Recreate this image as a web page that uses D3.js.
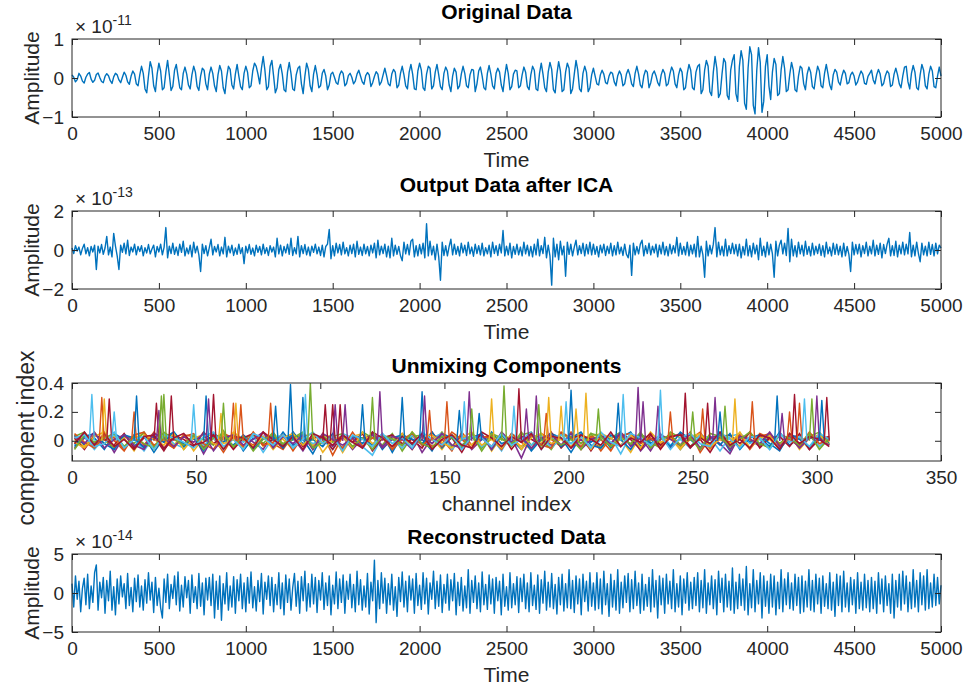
<!DOCTYPE html>
<html>
<head>
<meta charset="utf-8">
<script src="https://cdn.jsdelivr.net/npm/d3@7"></script>
<style>
body { margin: 0; background: #fff; }
svg { display: block; font-family: "Liberation Sans", Arial, sans-serif; }
</style>
</head>
<body>
<svg width="966" height="686"></svg>
<script>
var width = 966, height = 686;
var left = 72, right = 941, plotH = 78;
var ink = "#262626";
var lineBlue = "#0072BD";
var matlabColors = ["#0072BD", "#D95319", "#EDB120", "#7E2F8E", "#77AC30", "#4DBEEE", "#A2142F"];

var timeTicks = [0, 500, 1000, 1500, 2000, 2500, 3000, 3500, 4000, 4500, 5000];
var channelTicks = [0, 50, 100, 150, 200, 250, 300, 350];

// amplitude in units of 1e-11, one sample every 10 time steps (one row = 200 steps)
var original = [
  0.08, 0.02, -0.10, -0.04, 0.12, 0.05, -0.08, -0.13, 0.02, 0.10, 0.14, -0.03, -0.11, -0.06, 0.09, 0.13, 0.01, -0.09, -0.12, 0.04,
  0.11, 0.06, -0.07, -0.14, 0.03, 0.12, 0.08, -0.05, -0.12, 0.02, 0.15, 0.07, -0.10, -0.16, 0.05, 0.18, 0.10, -0.15, -0.20, 0.08,
  0.30, 0.12, -0.28, -0.38, 0.05, 0.42, 0.25, -0.20, -0.35, 0.10, 0.38, 0.18, -0.30, -0.25, 0.15, 0.45, 0.08, -0.32, -0.22, 0.20,
  0.35, 0.05, -0.25, -0.30, 0.12, 0.28, 0.10, -0.18, -0.28, 0.08, 0.30, 0.15, -0.22, -0.32, 0.05, 0.25, 0.20, -0.15, -0.30, 0.10,
  0.28, 0.12, -0.20, -0.35, 0.08, 0.32, 0.18, -0.25, -0.40, 0.02, 0.30, 0.22, -0.18, -0.28, 0.10, 0.35, 0.05, -0.22, -0.30, 0.12,
  0.30, 0.15, -0.25, -0.20, 0.18, 0.38, 0.30, 0.10, -0.15, 0.25, 0.55, 0.20, -0.30, -0.22, 0.30, 0.45, 0.05, -0.38, -0.25, 0.22,
  0.35, 0.10, -0.30, -0.35, 0.15, 0.40, 0.12, -0.28, -0.32, 0.08, 0.25, 0.30, -0.15, -0.40, 0.05, 0.38, 0.22, -0.20, -0.35, 0.10,
  0.32, 0.08, -0.25, -0.20, 0.12, 0.22, 0.05, -0.30, -0.18, 0.10, 0.15, 0.02, -0.12, -0.16, 0.08, 0.18, 0.12, -0.20, -0.14, 0.06,
  0.12, 0.02, -0.15, -0.08, 0.10, 0.20, 0.05, -0.10, -0.16, 0.06, 0.14, 0.08, -0.22, -0.12, 0.04, 0.16, 0.10, -0.18, -0.10, 0.08,
  0.25, 0.06, -0.15, -0.20, 0.10, 0.22, 0.15, -0.25, -0.18, 0.12, 0.30, 0.08, -0.20, -0.28, 0.15, 0.35, 0.10, -0.28, -0.30, 0.18,
  0.38, 0.20, -0.25, -0.32, 0.10, 0.30, 0.25, -0.28, -0.20, 0.15, 0.35, 0.08, -0.22, -0.30, 0.12, 0.28, 0.18, -0.18, -0.35, 0.05,
  0.25, 0.15, -0.28, -0.20, 0.10, 0.30, 0.12, -0.20, -0.25, 0.08, 0.22, 0.20, -0.35, -0.15, 0.18, 0.28, 0.05, -0.25, -0.30, 0.12,
  0.32, 0.10, -0.20, -0.28, 0.12, 0.25, 0.15, -0.18, -0.35, 0.05, 0.35, 0.12, -0.30, -0.22, 0.10, 0.20, 0.18, -0.25, -0.20, 0.08,
  0.28, 0.15, -0.22, -0.30, 0.08, 0.30, 0.20, -0.28, -0.32, 0.12, 0.38, 0.10, -0.25, -0.35, 0.15, 0.40, 0.22, -0.30, -0.38, 0.10,
  0.42, 0.18, -0.35, -0.30, 0.15, 0.38, 0.25, -0.40, -0.28, 0.10, 0.45, 0.20, -0.28, -0.35, 0.12, 0.30, 0.15, -0.35, -0.25, 0.08,
  0.25, 0.05, -0.15, -0.18, 0.08, 0.20, 0.10, -0.12, -0.15, 0.05, 0.15, 0.12, -0.10, -0.20, 0.06, 0.18, 0.08, -0.20, -0.15, 0.10,
  0.22, 0.08, -0.15, -0.22, 0.12, 0.30, 0.10, -0.18, -0.25, 0.05, 0.20, 0.15, -0.25, -0.12, 0.10, 0.18, 0.06, -0.12, -0.20, 0.08,
  0.22, 0.12, -0.20, -0.15, 0.10, 0.28, 0.18, -0.15, -0.25, 0.08, 0.25, 0.15, -0.30, -0.25, 0.12, 0.35, 0.20, -0.25, -0.30, 0.15,
  0.30, 0.35, -0.40, -0.30, 0.20, 0.45, 0.30, -0.35, -0.45, 0.15, 0.55, 0.25, -0.50, -0.40, 0.10, 0.50, 0.40, -0.45, -0.55, 0.20,
  0.45, 0.60, -0.40, -0.60, 0.30, 0.70, 0.45, -0.65, -0.80, 0.25, 0.80, 0.60, -0.70, -0.92, 0.20, 0.78, 0.40, -0.88, -0.60, 0.30,
  0.60, -0.20, -0.55, 0.15, 0.50, 0.35, -0.45, -0.40, 0.20, 0.55, 0.25, -0.35, -0.30, 0.10, 0.40, 0.20, -0.30, -0.35, 0.05, 0.30,
  0.25, -0.15, -0.30, 0.10, 0.28, 0.15, -0.22, -0.28, 0.05, 0.30, 0.18, -0.20, -0.25, 0.12, 0.35, 0.10, -0.18, -0.30, 0.08, 0.22,
  0.15, -0.10, -0.18, 0.05, 0.20, 0.12, -0.15, -0.12, 0.08, 0.15, 0.05, -0.18, -0.10, 0.06, 0.18, 0.10, -0.14, -0.16, 0.04, 0.12,
  0.20, -0.05, -0.15, 0.08, 0.22, 0.10, -0.20, -0.14, 0.06, 0.18, 0.12, -0.22, -0.18, 0.10, 0.25, 0.08, -0.15, -0.25, 0.05, 0.28,
  0.30, -0.10, -0.28, 0.12, 0.32, 0.15, -0.25, -0.30, 0.08, 0.35, 0.20, -0.20, -0.28, 0.10, 0.30, 0.18, -0.22, -0.25, 0.05, 0.28,
  0.05
];

// amplitude in units of 1e-13
var afterICA = [
  0.10, -0.18, 0.22, -0.05, 0.15, -0.25, 0.08, 0.30, -0.20, 0.12, -0.30, 0.18, -0.10, 0.25, -1.00, 0.20, -0.15, 0.28, -0.22, 0.10,
  0.70, -0.25, 0.15, -0.35, 0.85, 0.20, -0.30, -1.00, 0.25, -0.12, 0.35, -0.20, 0.50, -0.28, 0.15, -0.10, 0.30, -0.25, 0.18, -0.08,
  0.22, -0.30, 0.12, -0.15, 0.28, -0.20, 0.05, 0.25, -0.35, 0.18, -0.10, 0.30, -0.25, 0.15, 1.15, -0.40, 0.20, -0.18, 0.35, -0.22,
  0.15, -0.28, 0.30, -0.12, 0.45, -0.30, 0.10, -0.20, 0.25, -0.35, 0.40, -0.15, 0.20, -0.25, -1.10, 0.30, -0.18, 0.22, -0.30, 0.12,
  0.55, -0.25, 0.18, -0.10, 0.28, -0.30, 0.15, -0.20, 0.65, -0.35, 0.20, -0.15, 0.25, -0.28, 0.10, -0.22, 0.30, -0.18, 0.12, -0.70,
  0.20, -0.15, 0.28, -0.22, 0.10, -0.30, 0.25, -0.12, 0.18, -0.25, 0.30, -0.18, 0.12, -0.28, 0.22, -0.10, 0.15, -0.35, 0.60, -0.20,
  0.25, -0.30, 0.18, -0.15, 0.30, -0.22, 0.60, -0.28, 0.12, -0.20, 0.70, -0.35, 0.22, -0.18, 0.28, -0.25, 0.15, -0.30, 0.20, -0.12,
  0.30, -0.20, 0.15, -0.28, 0.25, -0.35, 0.18, 0.30, 1.05, -0.45, 0.22, -0.30, 0.35, -0.15, 0.28, -0.25, 0.40, -0.20, 0.12, -0.30,
  0.25, -0.18, 0.30, -0.35, 0.45, -0.22, 0.15, -0.28, 0.30, -0.20, 0.18, -0.30, 0.25, -0.15, 0.35, -0.40, 0.50, -0.25, 0.20, -0.18,
  0.30, -0.35, 0.20, -0.40, 0.60, -0.30, 0.25, -0.22, 0.18, -0.30, -0.55, 0.40, -0.20, 0.28, -0.25, 0.45, 0.55, -0.35, 0.22, -0.30,
  0.28, -0.20, 0.35, -0.40, 1.35, -0.30, 0.45, -0.25, 0.20, -0.50, 0.30, -0.35, -1.55, 0.40, -0.28, 0.22, -0.30, 0.18, 0.55, -0.25,
  0.30, -0.22, 0.18, -0.30, 0.35, -0.15, 0.25, -0.28, 0.40, -0.20, 0.15, -0.32, 0.30, -0.18, 0.22, -0.25, 0.35, -0.30, 0.12, -0.20,
  0.25, -0.35, 0.40, -0.18, 0.22, -0.28, 0.30, -0.15, 1.00, -0.30, 0.20, -0.25, 0.35, -0.40, 0.18, -0.22, 0.30, -0.25, 0.15, -0.30,
  0.40, -0.20, 0.25, -0.30, 0.18, -0.35, 0.30, -0.25, 0.55, -0.30, 0.22, -0.18, 0.65, -0.40, 0.25, -0.30, -1.80, 0.60, -0.35, 0.30,
  -0.50, 0.45, -0.25, 0.20, -1.35, 0.40, -0.22, 0.30, -0.30, 0.15, 0.50, -0.25, 0.22, -0.18, 0.35, -0.30, 0.28, -0.20, 0.40, -0.25,
  0.30, -0.22, 0.18, -0.35, 0.25, -0.15, 0.30, -0.28, 0.20, -0.18, 0.35, -0.30, 0.22, -0.25, 0.40, -0.20, 0.15, -0.28, 0.30, -0.22,
  -0.40, 0.25, -1.30, 0.35, -0.25, 0.18, -0.20, 0.30, 0.50, -0.30, 0.22, -0.18, 0.35, -0.25, 0.20, -0.15, 0.30, -0.35, 0.25, -0.20,
  0.40, -0.25, 0.18, -0.30, 0.30, -0.20, 0.22, -0.15, 0.65, -0.30, 0.35, -0.22, 0.18, -0.25, 0.40, -0.30, 0.25, -0.20, 0.30, -0.35,
  0.70, -0.35, 0.20, -0.25, -1.40, 0.45, -0.30, 0.25, -0.20, 0.30, 1.15, -0.35, 0.40, -0.25, 0.20, -0.30, 0.55, -0.30, 0.22, -0.18,
  0.35, -0.20, 0.28, -0.30, 0.30, -0.40, 0.18, -0.25, 0.55, -0.30, 0.22, -0.35, 0.35, -0.20, 0.25, -0.50, 0.60, -0.28, 0.20, -0.35,
  0.40, -0.25, 0.30, -0.20, -1.40, 0.45, -0.30, 0.25, 0.50, -0.20, 0.35, -0.28, 1.10, -0.60, 0.55, -0.30, 0.22, -0.35, 0.40, -0.20,
  0.25, -0.30, 0.45, -0.22, 0.18, -0.30, 0.35, -0.25, 0.20, -0.18, 0.30, -0.28, 0.22, -0.35, 0.40, -0.20, 0.15, -0.30, 0.35, -0.22,
  0.30, -0.25, 0.20, -0.35, 0.35, -0.30, 0.18, -0.22, -1.10, 0.40, -0.25, 0.28, -0.20, 0.30, -0.35, 0.22, -0.18, 0.40, -0.30, 0.20,
  -0.20, 0.50, -0.30, 0.25, -0.22, 0.35, -0.40, 0.28, -0.18, 0.30, 0.60, -0.30, 0.22, -0.28, 0.45, -0.35, 0.25, -0.20, 0.40, -0.25,
  0.30, -0.20, 0.90, -0.35, 0.25, -0.30, 0.40, -0.18, -0.60, 0.35, -0.25, 0.20, -0.30, 0.40, -0.22, 0.28, -0.30, 0.35, -0.20, 0.25,
  0.10
];

// amplitude in units of 1e-14
var reconstructed = [
  1.2, -1.8, 2.2, -0.8, 1.5, -2.4, 0.6, 1.9, -1.5, 2.4, -2.0, 0.9, -1.2, 2.6, 3.6, -2.2, 1.4, -0.6, 2.0, -2.6,
  1.6, -1.0, 2.8, -2.2, 0.8, -2.8, 1.8, -1.4, 2.2, -0.5, 1.2, -2.0, 2.5, -1.6, 0.7, -2.4, 1.9, -1.1, 2.3, -1.8,
  0.9, -2.2, 1.7, -1.3, 2.6, -0.9, 1.4, -2.5, 2.0, -1.6, 0.6, -1.9, -3.2, 1.8, -1.2, 2.4, -2.0, 1.1, -0.7, 2.2,
  -1.5, 2.7, -2.3, 1.0, -1.8, 2.1, -0.6, 1.6, -2.6, 2.3, -1.2, 0.8, -2.0, 2.5, -1.7, 1.3, -2.8, 1.9, -0.9, 2.0,
  -1.6, 2.4, -3.2, 1.5, -2.1, 2.2, -3.5, 1.2, -1.4, 2.6, -2.2, 0.9, -1.8, 2.1, -2.6, 1.7, -1.0, 2.4, -2.0, 1.3,
  -2.4, 2.0, -1.3, 2.7, -1.9, 0.8, -2.3, 1.6, -1.1, 2.5, -2.7, 1.4, -0.8, 2.2, -1.6, 2.0, -2.4, 1.1, -1.5, 2.6,
  -2.0, 1.3, -2.8, 2.3, -1.2, 1.8, -2.2, 0.7, 2.5, -1.7, 1.5, -2.6, 2.1, -1.0, 2.8, -2.3, 1.2, -1.8, 2.4, -1.4,
  2.0, -2.5, 1.6, -0.9, 2.6, -2.1, 1.3, -1.6, 2.2, -2.8, 1.0, -1.4, 2.7, -2.0, 1.8, -1.2, 2.3, -2.6, 1.5, -0.8,
  2.4, -1.9, 1.1, -2.4, 2.8, -1.5, 1.7, -2.2, 0.9, -1.8, 2.5, -2.7, 1.4, -1.0, 4.2, -3.8, 1.6, -2.0, 2.6, -1.3,
  1.9, -2.6, 1.2, -1.5, 2.4, -2.2, 0.8, -3.0, 2.0, -1.1, 2.7, -1.8, 1.5, -2.4, 2.2, -0.9, 1.8, -2.6, 2.5, -1.6,
  1.0, -2.1, 2.6, -1.4, 1.9, -2.7, 1.3, -0.8, 2.8, -2.0, 1.5, -1.7, 2.3, -2.5, 1.1, -1.3, 2.4, -2.2, 1.7, -1.0,
  2.5, -2.8, 1.4, -1.6, 2.0, -2.3, 0.9, -1.9, 3.0, -2.6, 1.6, -1.2, 2.2, -2.0, 1.3, -2.4, 2.7, -1.5, 1.1, -2.1,
  2.3, -1.4, 1.8, -2.6, 2.0, -1.0, 1.5, -2.8, 2.4, -1.7, 0.8, -2.2, 2.6, -1.9, 1.2, -1.5, 2.1, -2.5, 1.9, -1.1,
  2.4, -2.0, 1.3, -2.4, 2.6, -1.6, 1.0, -2.1, 2.3, -2.6, 1.7, -1.3, 2.8, -2.2, 1.4, -1.8, 2.5, -2.0, 1.1, -2.7,
  2.0, -1.5, 2.4, -2.3, 1.2, -1.9, 3.0, -2.0, 1.6, -2.5, 2.2, -1.4, 1.8, -2.8, 2.4, -1.1, 1.5, -2.3, 2.6, -1.7,
  1.3, -2.2, 2.6, -2.0, 1.8, -2.7, 2.8, -1.5, 1.2, -3.0, 2.4, -1.8, 1.6, -2.2, 3.0, -2.6, 1.4, -1.9, 2.2, -1.2,
  2.5, -2.4, 1.7, -2.0, 2.8, -1.6, 1.3, -2.6, 2.4, -2.2, 1.1, -1.7, 2.0, -2.4, 3.0, -1.8, 1.6, -3.2, 2.2, -1.5,
  1.9, -2.6, 2.4, -1.4, 1.5, -2.0, 3.0, -2.4, 1.2, -1.8, 2.2, -2.8, 1.8, -1.3, 2.6, -2.2, 1.4, -2.0, 2.0, -1.6,
  2.6, -2.4, 1.6, -1.9, 3.0, -2.6, 1.3, -1.5, 2.2, -2.0, 1.7, -2.8, 2.8, -1.2, 1.9, -2.4, 2.4, -1.8, 1.5, -2.2,
  3.2, -2.6, 1.4, -2.0, 2.4, -1.6, 1.8, -2.2, 3.4, -2.8, 1.2, -1.9, 3.0, -2.4, 1.6, -1.4, 2.6, -3.2, 2.2, -1.7,
  1.5, -2.6, 2.4, -1.8, 2.2, -2.8, 1.4, -2.0, 3.0, -2.4, 1.8, -1.5, 2.6, -2.0, 1.3, -2.2, 2.4, -1.6, 2.0, -2.6,
  2.2, -2.4, 1.5, -1.8, 3.0, -2.2, 1.6, -2.4, 2.4, -1.4, 1.9, -2.6, 2.2, -1.7, 1.2, -2.0, 2.6, -2.2, 1.4, -3.0,
  2.4, -1.6, 2.2, -2.4, 2.8, -1.8, 1.3, -2.4, 2.0, -1.5, 1.7, -2.6, 2.6, -2.0, 1.4, -2.2, 2.4, -1.9, 1.6, -2.4,
  2.0, -2.0, 1.5, -2.6, 2.6, -1.4, 1.8, -2.4, 2.2, -1.6, 1.2, -2.6, 2.4, -3.2, 1.6, -1.8, 2.4, -2.2, 2.8, -1.4,
  2.2, -2.4, 1.4, -2.0, 3.0, -1.8, 1.6, -2.4, 2.6, -1.5, 2.2, -2.2, 3.0, -2.0, 1.3, -1.8, 2.4, -1.6, 2.0, -1.4,
  1.0
];

// unmixing weights: background level of each component line, one value every 4 channels (1..305)
var unmixBase0 = [0.04, -0.03, 0.02, -0.06, 0.05, 0.01, -0.04, 0.03, -0.08, 0.02, 0.06, -0.02, 0.03, -0.05, 0.04, -0.01, 0.05, -0.07, 0.02, 0.03,
  -0.04, 0.06, -0.03, 0.01, -0.09, 0.04, 0.02, -0.05, 0.03, -0.02, 0.05, -0.06, 0.02, 0.04, -0.03, 0.01, -0.07, 0.05, 0.02, -0.04,
  0.03, -0.05, 0.06, -0.02, 0.01, -0.06, 0.04, -0.03, 0.05, 0.02, -0.08, 0.03, -0.01, 0.04, -0.05, 0.02, 0.06, -0.04, 0.01, -0.03,
  0.05, -0.06, 0.02, 0.03, -0.02, 0.04, -0.07, 0.05, -0.01, 0.02, -0.04, 0.06, -0.03, 0.02, -0.05, 0.03, 0.01];
var unmixBase1 = [-0.02, 0.05, -0.05, 0.03, 0.00, -0.07, 0.04, -0.03, 0.06, -0.01, -0.05, 0.03, 0.05, -0.04, 0.02, -0.08, 0.03, 0.01, -0.03, 0.06,
  -0.02, -0.06, 0.04, 0.02, -0.04, 0.05, -0.10, 0.03, 0.01, -0.05, 0.04, 0.02, -0.06, 0.05, -0.02, 0.03, -0.04, 0.01, -0.07, 0.06,
  -0.03, 0.02, 0.04, -0.05, 0.03, -0.01, -0.06, 0.05, 0.01, -0.04, 0.06, -0.02, 0.03, -0.07, 0.02, 0.04, -0.03, 0.05, -0.05, 0.01,
  0.03, -0.04, 0.06, -0.08, 0.02, 0.01, -0.03, 0.04, -0.05, 0.05, 0.02, -0.06, 0.03, -0.02, 0.04, -0.04, 0.02];
var unmixBase2 = [0.01, -0.04, 0.06, -0.02, 0.03, -0.05, 0.02, 0.05, -0.06, 0.03, -0.03, 0.04, -0.07, 0.02, 0.05, -0.02, 0.01, -0.05, 0.06, -0.04,
  0.03, 0.01, -0.06, 0.05, -0.03, 0.02, 0.04, -0.08, 0.03, 0.05, -0.04, 0.01, 0.03, -0.05, 0.06, -0.02, 0.02, -0.06, 0.04, 0.01,
  -0.03, 0.05, -0.07, 0.03, 0.02, -0.04, 0.05, -0.01, -0.05, 0.04, 0.02, -0.06, 0.03, 0.05, -0.03, 0.01, -0.08, 0.04, 0.02, -0.02,
  0.05, -0.05, 0.01, 0.04, -0.06, 0.03, 0.02, -0.04, 0.06, -0.03, 0.01, -0.05, 0.04, 0.02, -0.06, 0.05, -0.01];
var unmixBase3 = [-0.05, 0.02, -0.02, 0.04, -0.08, 0.03, 0.01, -0.04, 0.05, -0.06, 0.02, -0.03, 0.04, -0.09, 0.03, 0.02, -0.05, 0.04, -0.01, -0.06,
  0.05, -0.03, 0.02, -0.07, 0.04, 0.01, -0.04, 0.03, -0.06, 0.02, 0.04, -0.05, 0.01, -0.03, 0.05, -0.08, 0.02, 0.03, -0.04, 0.04,
  -0.06, 0.01, 0.03, -0.05, 0.02, -0.12, 0.04, 0.02, -0.03, 0.05, -0.05, 0.01, -0.06, 0.03, 0.02, -0.04, 0.04, -0.07, 0.01, 0.03,
  -0.05, 0.02, 0.04, -0.06, 0.03, -0.02, -0.09, 0.04, 0.01, -0.04, 0.03, -0.05, 0.02, 0.04, -0.06, 0.02, -0.03];
var unmixBase4 = [0.03, 0.06, -0.03, 0.01, -0.05, 0.04, -0.02, 0.06, -0.04, 0.02, 0.05, -0.06, 0.03, 0.01, -0.03, 0.07, -0.05, 0.02, 0.04, -0.02,
  0.06, -0.04, 0.01, 0.05, -0.06, 0.03, -0.01, 0.04, -0.05, 0.06, 0.02, -0.03, 0.05, -0.07, 0.03, 0.04, -0.02, 0.06, -0.04, 0.01,
  0.03, -0.05, 0.05, 0.02, -0.04, 0.06, -0.03, 0.01, -0.06, 0.04, 0.03, -0.02, 0.05, -0.05, 0.02, 0.06, -0.03, 0.04, -0.01, -0.05,
  0.06, 0.02, -0.04, 0.03, -0.02, 0.05, -0.06, 0.03, 0.01, -0.03, 0.05, -0.02, 0.04, -0.04, 0.03, 0.06, -0.02];
var unmixBase5 = [-0.03, 0.03, -0.06, 0.02, 0.04, -0.04, 0.01, -0.07, 0.03, 0.05, -0.02, -0.05, 0.04, -0.03, 0.02, -0.06, 0.05, -0.01, 0.03, -0.08,
  0.02, 0.04, -0.05, 0.03, -0.02, 0.01, -0.06, 0.05, 0.02, -0.04, -0.10, 0.03, 0.01, -0.05, 0.04, -0.03, 0.02, 0.05, -0.06, 0.01,
  0.03, -0.04, 0.02, -0.07, 0.05, 0.01, -0.03, 0.04, -0.05, 0.02, -0.02, 0.05, -0.06, 0.01, 0.03, -0.09, 0.04, 0.02, -0.04, 0.05,
  -0.03, 0.01, -0.05, 0.04, 0.02, -0.07, 0.03, 0.05, -0.02, 0.01, -0.06, 0.04, 0.02, -0.03, 0.05, -0.04, 0.02];
var unmixBase6 = [0.02, -0.06, 0.04, 0.01, -0.03, 0.05, -0.05, 0.02, 0.03, -0.07, 0.04, 0.01, -0.04, 0.06, -0.02, 0.03, -0.06, 0.02, 0.05, -0.03,
  0.01, -0.05, 0.06, -0.04, 0.02, 0.03, -0.06, 0.04, -0.01, 0.05, -0.07, 0.02, 0.04, -0.02, 0.01, -0.05, 0.06, -0.03, 0.02, -0.08,
  0.04, 0.02, -0.04, 0.05, -0.06, 0.03, 0.01, -0.03, 0.06, -0.05, 0.02, 0.04, -0.07, 0.03, -0.02, 0.05, 0.01, -0.06, 0.04, -0.03,
  0.02, 0.05, -0.04, 0.01, -0.08, 0.03, 0.04, -0.02, 0.06, -0.05, 0.02, 0.03, -0.04, 0.05, -0.06, 0.01, 0.03];
var unmixBase7 = [-0.04, 0.03, 0.05, -0.02, -0.06, 0.04, 0.02, -0.05, 0.03, -0.01, 0.06, -0.04, 0.02, -0.07, 0.05, 0.01, -0.03, 0.04, -0.06, 0.02,
  0.03, -0.05, 0.06, -0.02, 0.01, -0.04, 0.05, -0.06, 0.03, 0.02, -0.03, 0.05, -0.08, 0.04, 0.01, -0.02, 0.06, -0.05, 0.03, -0.03,
  0.02, 0.05, -0.06, 0.04, -0.02, 0.03, -0.07, 0.01, 0.05, -0.04, 0.02, 0.06, -0.03, -0.05, 0.04, 0.01, -0.06, 0.05, -0.02, 0.03,
  -0.04, 0.06, 0.01, -0.05, 0.03, -0.03, 0.05, -0.06, 0.02, 0.04, -0.02, -0.07, 0.05, 0.01, -0.04, 0.03, -0.02];
var unmixBase8 = [0.05, -0.01, -0.05, 0.03, 0.02, -0.06, 0.04, 0.06, -0.03, 0.01, -0.05, 0.04, 0.03, -0.02, -0.06, 0.05, 0.02, -0.04, 0.06, -0.03,
  -0.01, 0.04, -0.07, 0.03, 0.05, -0.02, 0.01, -0.05, 0.06, -0.04, 0.02, 0.03, -0.06, 0.01, 0.05, -0.03, 0.02, -0.04, 0.06, 0.01,
  -0.05, 0.03, 0.02, -0.06, 0.05, -0.01, 0.04, -0.03, -0.05, 0.06, 0.02, -0.04, 0.03, 0.01, -0.07, 0.04, 0.05, -0.02, 0.02, -0.05,
  0.04, -0.03, 0.01, 0.06, -0.05, 0.02, -0.01, 0.04, -0.06, 0.03, 0.05, -0.03, 0.01, -0.04, 0.06, -0.02, 0.01];
var unmixBase9 = [-0.01, -0.05, 0.03, 0.06, -0.04, 0.02, -0.07, 0.04, 0.01, -0.03, 0.05, -0.06, 0.02, 0.04, -0.02, -0.05, 0.06, 0.01, -0.04, 0.03,
  -0.06, 0.02, 0.05, -0.03, 0.04, -0.08, 0.01, 0.03, -0.05, 0.06, -0.02, 0.02, -0.04, 0.05, -0.06, 0.03, 0.04, -0.01, -0.05, 0.02,
  0.06, -0.03, 0.01, -0.05, 0.04, -0.06, 0.02, 0.05, -0.02, 0.01, -0.04, 0.03, -0.06, 0.05, 0.02, -0.03, 0.04, -0.05, 0.06, -0.01,
  0.02, -0.06, 0.03, 0.05, -0.04, 0.01, -0.02, 0.06, -0.05, 0.02, 0.03, -0.04, 0.05, -0.06, 0.02, 0.04, -0.03];
var unmixBase10 = [0.03, -0.02, 0.06, -0.05, 0.01, 0.04, -0.03, -0.06, 0.05, 0.02, -0.04, 0.03, -0.01, 0.05, -0.07, 0.02, 0.04, -0.03, 0.01, 0.06,
  -0.05, 0.03, -0.02, 0.04, -0.06, 0.05, 0.01, -0.03, 0.02, -0.05, 0.06, -0.04, 0.03, 0.01, -0.06, 0.04, -0.02, 0.05, -0.03, -0.05,
  0.02, 0.04, -0.06, 0.06, -0.01, 0.03, -0.05, 0.02, 0.04, -0.03, 0.05, -0.06, 0.01, 0.03, -0.02, 0.06, -0.04, 0.02, -0.07, 0.04,
  0.01, -0.03, 0.05, -0.05, 0.02, 0.04, -0.06, 0.03, 0.01, -0.02, 0.06, -0.04, 0.03, -0.05, 0.02, 0.01, -0.03];
var unmixBase11 = [-0.06, 0.04, -0.01, 0.02, 0.05, -0.04, 0.03, -0.02, -0.05, 0.06, 0.01, -0.03, 0.04, -0.06, 0.02, 0.05, -0.04, 0.03, -0.07, 0.01,
  0.04, -0.02, 0.02, 0.06, -0.05, -0.01, 0.03, 0.05, -0.04, 0.02, -0.06, 0.04, 0.01, -0.03, 0.06, -0.02, -0.05, 0.03, 0.02, -0.04,
  0.05, -0.07, 0.03, 0.01, -0.02, 0.04, 0.06, -0.05, 0.02, -0.03, 0.01, -0.06, 0.05, 0.03, -0.04, 0.02, -0.02, 0.06, -0.05, 0.01,
  0.04, -0.03, 0.02, -0.06, 0.05, 0.03, -0.04, 0.01, 0.06, -0.02, -0.05, 0.04, 0.02, -0.03, 0.05, -0.06, 0.02];
var unmixBase12 = [0.02, 0.04, -0.04, -0.02, 0.06, -0.05, 0.01, 0.03, -0.06, 0.04, 0.02, -0.01, -0.05, 0.03, 0.06, -0.04, 0.01, -0.06, 0.05, 0.02,
  -0.03, 0.04, -0.05, 0.01, 0.06, -0.02, 0.03, -0.07, 0.04, 0.01, -0.04, 0.05, -0.02, 0.02, -0.05, 0.06, 0.01, -0.03, 0.04, -0.06,
  0.03, 0.02, -0.04, 0.05, -0.03, 0.01, 0.06, -0.06, 0.02, 0.04, -0.02, 0.03, -0.05, 0.06, -0.01, -0.04, 0.05, 0.02, -0.03, 0.04,
  -0.06, 0.02, 0.05, -0.02, -0.04, 0.06, 0.01, -0.05, 0.03, 0.02, -0.06, 0.05, -0.01, 0.03, -0.04, 0.05, 0.01];
var unmixBase13 = [-0.02, 0.06, -0.03, 0.05, -0.04, 0.01, -0.06, 0.03, 0.04, -0.05, 0.02, 0.05, -0.03, -0.01, 0.04, -0.06, 0.03, 0.02, -0.05, 0.06,
  0.01, -0.04, 0.03, -0.06, 0.05, 0.02, -0.03, 0.04, -0.01, -0.05, 0.06, 0.02, -0.04, 0.03, -0.02, 0.05, -0.06, 0.01, 0.04, -0.03,
  -0.05, 0.06, 0.02, -0.04, 0.03, -0.01, 0.05, -0.06, 0.03, 0.02, -0.05, 0.04, 0.01, -0.03, 0.06, -0.04, 0.02, -0.01, 0.05, -0.06,
  0.03, 0.04, -0.05, 0.02, -0.02, 0.06, -0.03, 0.01, -0.05, 0.04, 0.02, -0.06, 0.05, -0.02, 0.03, 0.01, -0.04];
var unmixBases = [unmixBase0, unmixBase1, unmixBase2, unmixBase3, unmixBase4, unmixBase5, unmixBase6,
  unmixBase7, unmixBase8, unmixBase9, unmixBase10, unmixBase11, unmixBase12, unmixBase13];

// peaks of the unmixing components: [channel, weight, colour index]
var unmixPeaks = [
  [8, 0.32, 5], [12, 0.30, 1], [13, 0.29, 2], [15, 0.29, 6], [17, 0.20, 5], [25, 0.20, 1], [26, 0.31, 0], [34, 0.26, 6],
  [35, 0.21, 3], [36, 0.31, 4], [37, 0.32, 4], [40, 0.31, 6], [49, 0.25, 5], [54, 0.31, 0], [55, 0.29, 3], [57, 0.32, 6],
  [60, 0.19, 2], [61, 0.26, 4], [65, 0.26, 1], [66, 0.26, 2], [68, 0.25, 1], [80, 0.26, 1], [82, 0.24, 0], [88, 0.39, 0],
  [93, 0.30, 0], [94, 0.32, 5], [96, 0.40, 4], [102, 0.25, 6], [105, 0.25, 6], [106, 0.25, 3], [108, 0.25, 6], [110, 0.25, 3],
  [117, 0.25, 0], [121, 0.30, 4], [124, 0.34, 3], [133, 0.30, 0], [141, 0.34, 0], [142, 0.31, 3], [144, 0.21, 1], [151, 0.27, 1],
  [156, 0.21, 0], [158, 0.27, 5], [160, 0.34, 3], [161, 0.22, 4], [164, 0.19, 0], [169, 0.29, 2], [174, 0.38, 4], [178, 0.24, 5],
  [180, 0.36, 6], [183, 0.22, 3], [187, 0.31, 3], [188, 0.25, 4], [191, 0.19, 1], [192, 0.30, 2], [197, 0.24, 2], [199, 0.27, 5],
  [201, 0.35, 0], [203, 0.22, 2], [207, 0.33, 2], [212, 0.22, 4], [220, 0.26, 0], [222, 0.32, 5], [228, 0.37, 3], [230, 0.27, 3],
  [236, 0.24, 3], [237, 0.35, 5], [241, 0.20, 1], [247, 0.33, 6], [250, 0.20, 4], [254, 0.22, 1], [256, 0.26, 6], [259, 0.30, 3],
  [261, 0.20, 0], [263, 0.24, 4], [267, 0.29, 2], [274, 0.27, 1], [284, 0.31, 0], [286, 0.19, 3], [289, 0.20, 1], [291, 0.32, 6],
  [293, 0.26, 1], [295, 0.29, 5], [298, 0.29, 4], [300, 0.31, 3], [302, 0.28, 0], [304, 0.30, 6]
];

var svg = d3.select("svg")
    .attr("width", width)
    .attr("height", height);

svg.append("rect").attr("width", width).attr("height", height).attr("fill", "#fff");

function frame(g, x, y, xTicks, yTicks, yFmt) {
    var bottom = y.range()[0], top = y.range()[1];
    g.append("g").attr("transform", "translate(0," + bottom + ")")
        .call(d3.axisBottom(x).tickValues(xTicks).tickSizeInner(-6).tickSizeOuter(0).tickPadding(10).tickFormat(d3.format("d")));
    g.append("g").attr("transform", "translate(0," + top + ")")
        .call(d3.axisTop(x).tickValues(xTicks).tickSizeInner(-6).tickSizeOuter(0).tickFormat(""));
    g.append("g").attr("transform", "translate(" + left + ",0)")
        .call(d3.axisLeft(y).tickValues(yTicks).tickSizeInner(-6).tickSizeOuter(0).tickPadding(8).tickFormat(yFmt));
    g.append("g").attr("transform", "translate(" + right + ",0)")
        .call(d3.axisRight(y).tickValues(yTicks).tickSizeInner(-6).tickSizeOuter(0).tickFormat(""));

    g.selectAll(".domain").remove();
    g.selectAll(".tick line").attr("stroke", ink);
    g.selectAll(".tick text")
        .attr("fill", ink)
        .attr("font-size", 19)
        .attr("font-family", "Liberation Sans, Arial, sans-serif");

    g.append("rect")
        .attr("x", left).attr("y", top)
        .attr("width", right - left).attr("height", bottom - top)
        .attr("fill", "none").attr("stroke", ink).attr("stroke-width", 1);
}

function labels(g, o) {
    g.append("text")
        .attr("x", (left + right) / 2).attr("y", o.titleY)
        .attr("text-anchor", "middle")
        .attr("font-weight", "bold").attr("font-size", 21)
        .attr("fill", "#000")
        .text(o.title);
    g.append("text")
        .attr("transform", "translate(" + o.yLabelX + "," + o.yLabelMid + ") rotate(-90)")
        .attr("text-anchor", "middle")
        .attr("font-size", o.yLabelSize || 21).attr("fill", ink)
        .text(o.yLabel);
    g.append("text")
        .attr("x", (left + right) / 2).attr("y", o.xLabelY)
        .attr("text-anchor", "middle")
        .attr("font-size", 21).attr("fill", ink)
        .text(o.xLabel);
}

function signalPanel(top, values, yMax, yTicks, expo, title, titleY) {
    var x = d3.scaleLinear().domain([0, 5000]).range([left, right]);
    var y = d3.scaleLinear().domain([-yMax, yMax]).range([top + plotH, top]);
    var g = svg.append("g");
    var step = 5000 / (values.length - 1);

    var line = d3.line()
        .x(function (d, i) { return x(i * step); })
        .y(function (d) { return y(d); });

    g.append("path")
        .datum(values)
        .attr("d", line)
        .attr("fill", "none")
        .attr("stroke", lineBlue)
        .attr("stroke-width", 1.4)
        .attr("stroke-linejoin", "round");

    frame(g, x, y, timeTicks, yTicks, d3.format("d"));
    labels(g, {
        title: title, titleY: titleY,
        yLabel: "Amplitude", yLabelX: 39, yLabelMid: top + plotH / 2,
        xLabel: "Time", xLabelY: top + plotH + 50
    });

    // exponent label like MATLAB's x 10^-n
    var ex = g.append("text")
        .attr("x", left + 3).attr("y", top - 6)
        .attr("font-size", 19).attr("fill", ink);
    ex.append("tspan").text("\u00d7 10");
    ex.append("tspan").attr("dy", -8).attr("font-size", 14).text(expo);
}

signalPanel(39, original, 1, [-1, 0, 1], "-11", "Original Data", 19);
signalPanel(211, afterICA, 2, [-2, 0, 2], "-13", "Output Data after ICA", 192);
signalPanel(554, reconstructed, 5, [-5, 0, 5], "-14", "Reconstructed Data", 544);

// unmixing components panel
(function () {
    var top = 383;
    var x = d3.scaleLinear().domain([0, 350]).range([left, right]);
    var y = d3.scaleLinear().domain([-0.14, 0.4]).range([top + plotH, top]);
    var g = svg.append("g");

    svg.append("clipPath").attr("id", "clip3")
        .append("rect").attr("x", left).attr("y", top).attr("width", right - left).attr("height", plotH);

    var lines = g.append("g").attr("clip-path", "url(#clip3)");

    unmixBases.forEach(function (base, k) {
        var step = 304 / (base.length - 1);
        lines.append("path")
            .datum(base)
            .attr("d", d3.line()
                .x(function (d, i) { return x(1 + i * step); })
                .y(function (d) { return y(d); }))
            .attr("fill", "none")
            .attr("stroke", matlabColors[k % matlabColors.length])
            .attr("stroke-width", 1.6);
    });

    lines.selectAll(".peak")
        .data(unmixPeaks)
        .enter()
        .append("path")
        .attr("class", "peak")
        .attr("d", function (d) {
            return d3.line()([[x(d[0] - 1), y(0)], [x(d[0]), y(d[1])], [x(d[0] + 1), y(0)]]);
        })
        .attr("fill", "none")
        .attr("stroke", function (d) { return matlabColors[d[2]]; })
        .attr("stroke-width", 1.4)
        .attr("stroke-linejoin", "round");

    frame(g, x, y, channelTicks, [0, 0.2, 0.4], d3.format(".1~f"));
    labels(g, {
        title: "Unmixing Components", titleY: top - 10,
        yLabel: "component index", yLabelX: 34, yLabelMid: 438, yLabelSize: 23,
        xLabel: "channel index", xLabelY: top + plotH + 50
    });
})();
</script>
</body>
</html>
